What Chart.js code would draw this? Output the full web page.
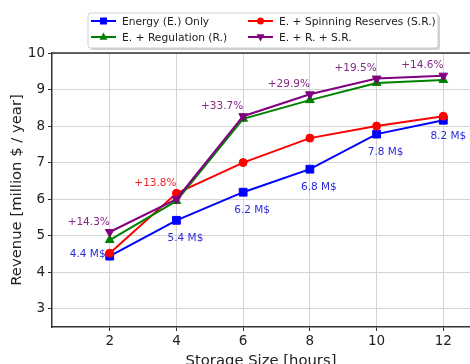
<!DOCTYPE html>
<html>
<head>
<meta charset="utf-8">
<script src="https://cdn.jsdelivr.net/npm/chart.js@4.4.0/dist/chart.umd.min.js"></script>
<style>
  html, body { margin: 0; padding: 0; background: #fff; }
  #wrap { width: 470px; height: 364px; }
</style>
</head>
<body>
<div id="wrap"><canvas id="chartRevenue" width="470" height="364"></canvas></div>
<script>
// data
const storageHours = [2, 4, 6, 8, 10, 12];
const energyOnly = [4.44, 5.42, 6.19, 6.82, 7.78, 8.16];
const energySpinning = [4.52, 6.16, 7.0, 7.67, 8.0, 8.27];
const energyRegulation = [4.88, 5.95, 8.2, 8.71, 9.18, 9.26];
const energyAll = [5.1, 6.0, 8.27, 8.87, 9.3, 9.38];
const energyLabels = ["4.4 M$", "5.4 M$", "6.2 M$", "6.8 M$", "7.8 M$", "8.2 M$"];
const gainLabels = ["+14.3%", "+13.8%", "+33.7%", "+29.9%", "+19.5%", "+14.6%"];
const gainSeries = [3, 1, 3, 3, 3, 3]; // which dataset each gain label sits on
const yTicks = [3, 4, 5, 6, 7, 8, 9, 10];

const FONT = "'DejaVu Sans', sans-serif";
const colors = ["#0000ff", "#ff0000", "#008000", "#800080"];
const textColors = ["#2b2bdd", "#ee2222", "#008000", "#862a86"];

function series(label, values, i, style, extra) {
    return Object.assign({
        label: label,
        data: storageHours.map((h, k) => ({ x: h, y: values[k] })),
        borderColor: colors[i],
        backgroundColor: colors[i],
        pointBackgroundColor: colors[i],
        pointBorderColor: colors[i],
        borderWidth: 2,
        pointStyle: style,
        pointRadius: 4,
        pointBorderWidth: 1,
        tension: 0,
        order: 4 - i
    }, extra || {});
}

const datasets = [
    series("Energy (E.) Only", energyOnly, 0, "rect", { pointRadius: 5.5 }),
    series("E. + Spinning Reserves (S.R.)", energySpinning, 1, "circle", { pointRadius: 4 }),
    series("E. + Regulation (R.)", energyRegulation, 2, "triangle", { pointRadius: 5 }),
    series("E. + R. + S.R.", energyAll, 3, "triangle", { pointRadius: 5, pointRotation: 180 })
];

function marker(ctx, style, x, y, r, rot) {
    ctx.beginPath();
    if (style === "rect") {
        ctx.rect(x - r, y - r, 2 * r, 2 * r);
    } else if (style === "circle") {
        ctx.arc(x, y, r, 0, Math.PI * 2);
    } else {
        const d = rot ? -1 : 1;
        ctx.moveTo(x, y - d * r * 1.1);
        ctx.lineTo(x - r, y + d * r * 0.7);
        ctx.lineTo(x + r, y + d * r * 0.7);
        ctx.closePath();
    }
    ctx.fill();
}

const extrasPlugin = {
    id: "extras",
    afterDraw(c) {
        const ctx = c.ctx;
        const area = c.chartArea;
        const xs = c.scales.x, ys = c.scales.y;
        ctx.save();

        // top spine
        ctx.strokeStyle = "#333";
        ctx.lineWidth = 1.5;
        ctx.beginPath();
        ctx.moveTo(area.left, area.top);
        ctx.lineTo(area.right, area.top);
        ctx.stroke();

        // point annotations
        ctx.font = "10.5px " + FONT;
        ctx.textAlign = "center";
        ctx.textBaseline = "middle";
        storageHours.forEach((h, k) => {
            const px = xs.getPixelForValue(h);
            const py = ys.getPixelForValue(energyOnly[k]);
            ctx.fillStyle = textColors[0];
            if (k === 0) ctx.fillText(energyLabels[k], px - 22, py - 2);
            else if (k === storageHours.length - 1) ctx.fillText(energyLabels[k], px + 5, py + 16);
            else ctx.fillText(energyLabels[k], px + 9, py + 18);

            const si = gainSeries[k];
            const vals = [energyOnly, energySpinning, energyRegulation, energyAll][si];
            ctx.fillStyle = textColors[si];
            ctx.fillText(gainLabels[k], px - 21, ys.getPixelForValue(vals[k]) - 10);
        });

        // legend box
        const bx = 88, by = 13, bw = 350, bh = 35;
        ctx.fillStyle = "rgba(0,0,0,0.18)";
        ctx.beginPath();
        ctx.roundRect(bx + 2, by + 2, bw, bh, 3);
        ctx.fill();
        ctx.fillStyle = "#fff";
        ctx.strokeStyle = "#cfcfcf";
        ctx.lineWidth = 1;
        ctx.beginPath();
        ctx.roundRect(bx, by, bw, bh, 3);
        ctx.fill();
        ctx.stroke();

        const slots = [
            { i: 0, x: 91, y: 21, style: "rect", r: 3.5 },
            { i: 1, x: 248, y: 21, style: "circle", r: 3.5 },
            { i: 2, x: 91, y: 37, style: "tri", r: 4 },
            { i: 3, x: 248, y: 37, style: "tri", r: 4, rot: true }
        ];
        ctx.font = "10.7px " + FONT;
        ctx.textAlign = "left";
        slots.forEach(s => {
            ctx.strokeStyle = colors[s.i];
            ctx.fillStyle = colors[s.i];
            ctx.lineWidth = 2;
            ctx.beginPath();
            ctx.moveTo(s.x, s.y);
            ctx.lineTo(s.x + 25, s.y);
            ctx.stroke();
            marker(ctx, s.style, s.x + 12.5, s.y, s.r, s.rot);
            ctx.fillStyle = "#222";
            ctx.fillText(datasets[s.i].label, s.x + 31, s.y + 1);
        });
        ctx.restore();
    }
};

new Chart(document.getElementById("chartRevenue").getContext("2d"), {
    type: "line",
    data: { datasets: datasets },
    options: {
        responsive: false,
        animation: false,
        layout: { autoPadding: false, padding: { top: 53, right: 0, left: 0, bottom: 0 } },
        plugins: {
            legend: { display: false },
            tooltip: { enabled: false }
        },
        scales: {
            x: {
                type: "linear",
                min: 0.27,
                max: 12.8,
                afterBuildTicks: s => { s.ticks = storageHours.map(v => ({ value: v })); },
                afterFit: s => { s.height = 37; s.paddingLeft = 0; s.paddingRight = 0; },
                grid: { color: "#d4d4d4", tickColor: "#333", tickLength: 4 },
                border: { color: "#333", width: 1.5 },
                ticks: { color: "#222", font: { family: FONT, size: 13.5 }, padding: 2, maxRotation: 0 },
                title: {
                    display: true,
                    text: "Storage Size [hours]",
                    color: "#222",
                    font: { family: FONT, size: 14.8 },
                    padding: { top: 0, bottom: -6 }
                }
            },
            y: {
                min: 2.5,
                max: 10,
                afterBuildTicks: s => { s.ticks = yTicks.map(v => ({ value: v })); },
                afterFit: s => { s.width = 52; s.paddingTop = 0; s.paddingBottom = 0; },
                grid: { color: "#d4d4d4", tickColor: "#333", tickLength: 4 },
                border: { color: "#333", width: 1.5 },
                ticks: { color: "#222", font: { family: FONT, size: 13.5 }, padding: 3 },
                title: {
                    display: true,
                    text: "Revenue [million $ / year]",
                    color: "#222",
                    font: { family: FONT, size: 14.8 },
                    padding: { top: 8, bottom: 0 }
                }
            }
        }
    },
    plugins: [extrasPlugin]
});
</script>
</body>
</html>
